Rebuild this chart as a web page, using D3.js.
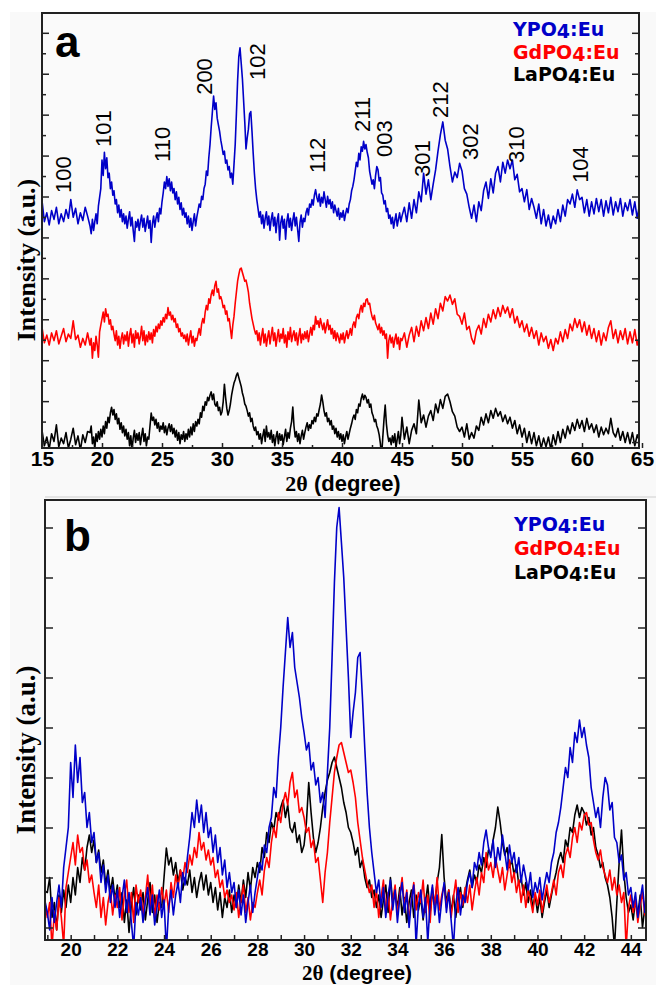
<!DOCTYPE html>
<html>
<head>
<meta charset="utf-8">
<script src="https://cdn.jsdelivr.net/npm/d3@7"></script>
<style>
  body { margin: 0; background: #fff; }
  svg { display: block; }
</style>
</head>
<body>
<svg id="chart" width="656" height="985"></svg>
<script>
// XRD patterns, counts.
// head: 15.0-18.8 step 0.2, mid: 19.0-45.0 step 0.1, tail: 45.2-65.0 step 0.2
const ypo4Head = [245,150,190,135,200,160,215,140,185,150,205,165,250,170,210,140,190,155,215,175];
const ypo4Mid = [
  130,95,160,110,150,185,140,220,260,300,
  430,360,465,390,440,350,370,300,330,270,
  290,230,250,190,225,170,205,150,185,140,
  175,120,160,195,130,170,110,60,150,125,
  160,110,150,180,125,165,105,140,175,120,
  155,55,140,175,125,165,190,150,210,185,
  240,280,330,300,355,310,345,290,330,280,
  300,250,285,230,260,205,235,180,210,170,
  190,140,175,125,165,110,150,185,130,170,
  200,230,215,265,250,300,320,380,360,440,
  500,580,650,720,660,690,620,590,560,520,
  490,455,470,415,430,385,400,350,370,320,
  410,500,640,790,900,940,870,800,700,600,
  480,530,570,640,650,560,460,370,300,250,
  210,170,195,140,180,120,165,195,135,175,
  110,160,190,130,170,100,155,185,65,145,
  175,120,160,70,150,185,125,165,110,155,
  190,130,170,115,60,145,180,125,165,150,
  190,210,180,230,215,250,225,270,295,260,
  240,275,220,260,235,285,250,215,265,230,
  250,210,240,190,225,200,175,210,160,190,
  170,200,155,185,210,190,230,250,290,310,
  340,380,420,400,460,430,490,470,515,480,
  500,465,440,380,350,320,340,300,360,400,
  385,335,350,280,270,230,245,195,210,165,
  180,140,170,120,155,185,130,160,190,150,
  175
];
const ypo4Tail = [
  215,150,235,165,250,190,285,240,370,
  275,340,250,320,385,
  470,545,603,520,480,
  400,330,375,350,415,
  380,300,275,215,165,
  225,150,240,200,290,
  330,255,345,280,370,
  400,330,420,370,430,
  390,430,340,365,285,
  300,240,295,205,255,
  215,165,230,140,205,
  130,180,120,175,140,
  205,150,225,175,250,
  230,275,215,294,250,
  260,190,250,175,240,
  185,255,195,250,175,
  245,190,260,180,240,
  195,255,175,235,200,
  250,180,240,165,230,
  130
];

const gdpo4Head = [200,130,165,120,175,140,185,125,160,195,135,170,150,230,145,165,110,150,120,175];
const gdpo4Mid = [
  120,150,60,130,95,160,120,65,180,210,
  240,270,225,285,250,260,215,235,190,205,
  170,140,185,120,160,105,150,175,125,165,
  140,180,115,165,195,130,170,110,185,150,
  175,125,160,205,140,185,120,165,135,180,
  145,175,130,190,160,205,180,215,195,230,
  210,245,225,260,240,290,255,270,235,255,
  225,240,200,215,180,195,160,175,150,165,
  135,170,120,155,185,130,160,115,150,140,
  170,195,165,215,240,220,270,300,280,330,
  310,350,370,345,390,410,360,375,330,340,
  320,290,300,260,275,230,240,195,150,210,
  250,310,360,410,440,465,470,450,430,410,
  415,390,360,310,275,240,215,190,170,185,
  140,175,120,160,195,130,170,115,155,185,
  125,165,200,140,175,115,155,190,135,170,
  150,195,130,165,110,180,145,200,135,165,
  185,140,175,120,160,195,130,170,145,180,
  150,185,135,170,200,165,210,190,250,215,
  230,200,240,215,190,220,175,205,235,190,
  210,170,195,150,185,140,175,155,130,170,
  145,175,130,160,185,150,170,195,165,210,
  225,200,245,260,240,280,300,270,310,295,
  325,330,305,310,275,250,235,255,220,205,
  190,215,175,200,165,185,150,170,60,140,
  165,130,155,110,145,170,125,155,100,150,
  140
];
const gdpo4Tail = [
  175,110,165,200,135,205,160,230,185,
  245,195,265,215,285,
  240,310,275,340,320,
  347,305,330,260,250,
  215,265,190,205,150,
  125,185,210,170,240,
  200,260,225,280,240,
  290,250,300,265,293,
  245,285,220,250,200,
  230,180,215,160,200,
  150,185,120,175,135,
  160,105,145,95,150,
  125,180,135,190,150,
  215,185,240,200,235,
  180,225,165,210,150,
  195,135,185,120,175,
  140,200,230,150,190,
  130,185,145,195,125,
  180,130,190,120,165,
  105
];

const lapo4Head = [180,110,150,95,165,130,205,105,145,120,170,100,140,190,115,155,90,160,125,175];
const lapo4Mid = [
  170,200,120,150,95,165,130,175,140,185,
  150,200,165,220,190,240,215,260,285,250,
  275,230,255,210,235,185,215,170,200,155,
  185,140,170,110,155,90,145,180,125,165,
  135,170,115,155,190,130,165,110,150,140,
  200,259,225,240,205,230,190,215,175,200,
  185,215,170,200,160,190,210,175,205,165,
  190,150,180,135,170,120,160,140,175,130,
  165,140,185,150,195,160,210,175,220,200,
  230,210,260,240,290,270,310,295,330,315,
  340,355,320,345,300,290,310,270,285,250,
  265,310,390,330,280,250,270,300,340,370,
  395,410,430,441,420,400,380,350,330,300,
  290,270,245,260,220,235,200,180,195,160,
  175,140,165,120,155,185,130,200,150,170,
  140,180,125,160,110,150,175,120,165,135,
  160,115,150,185,130,170,145,190,220,286,
  200,150,175,130,165,120,155,180,140,170,
  195,215,180,205,190,225,210,240,220,255,
  245,275,300,341,310,270,245,260,220,235,
  205,225,185,200,165,190,150,175,140,165,
  130,160,120,150,175,140,165,190,210,235,
  250,230,275,260,300,290,325,345,320,340,
  330,305,320,285,300,260,245,220,230,200,
  185,160,120,60,150,230,295,210,160,130,
  145,115,155,125,165,100,140,175,120,160,
  240
];
const lapo4Tail = [
  140,195,120,180,210,165,318,215,250,
  195,245,270,225,300,
  260,320,280,335,345,
  310,265,245,195,175,
  195,150,210,140,170,
  145,200,180,240,205,
  255,215,270,235,280,
  245,265,220,250,210,
  240,190,225,165,205,
  150,190,125,175,120,
  170,110,155,100,145,
  105,150,95,160,115,
  175,125,185,145,200,
  165,215,180,230,190,
  225,175,235,185,210,
  170,205,150,195,160,
  190,165,235,170,150,
  190,135,175,125,170,
  120,170,110,160,130,
  175
];

const prefixes = ["La", "Gd", "Y"];
const colors = ["#000000", "#ff0000", "#0000c8"];
const stackOffsets = [0, 448, 979];   // vertical shift used in panel a

// Miller indices marked in panel a
const hklLabels = ["100","101","110","200","102","112","211","003","301","212","302","310","104"];
const hklTheta  = [16.75, 20.1, 25.0, 28.5, 32.9, 37.9, 41.7, 43.5, 46.7, 48.2, 50.7, 54.5, 59.8];
const hklLevel  = [1259, 1468, 1400, 1705, 1773, 1350, 1536, 1423, 1332, 1600, 1409, 1395, 1305];

const xTicksA = [15, 20, 25, 30, 35, 40, 45, 50, 55, 60, 65];
const xTicksB = [19,20,21,22,23,24,25,26,27,28,29,30,31,32,33,34,35,36,37,38,39,40,41,42,43,44];

function buildSeries(head, mid, tail) {
  const pts = [];
  head.forEach((v, i) => pts.push({t: 15 + i * 0.2, v: v}));
  mid.forEach((v, i) => pts.push({t: 19 + i * 0.1, v: v}));
  tail.forEach((v, i) => pts.push({t: 45.2 + i * 0.2, v: v}));
  return pts;
}

const seriesData = [
  buildSeries(lapo4Head, lapo4Mid, lapo4Tail),
  buildSeries(gdpo4Head, gdpo4Mid, gdpo4Tail),
  buildSeries(ypo4Head, ypo4Mid, ypo4Tail)
];

const svg = d3.select("#chart");
const sansBold = "'Liberation Sans', Arial, sans-serif";
const serif = "'Liberation Serif', 'Times New Roman', serif";

svg.append("rect").attr("x", 10).attr("y", 12).attr("width", 646).attr("height", 973).attr("fill", "#f9f9f9");
svg.append("line").attr("x1", 45).attr("x2", 656).attr("y1", 497).attr("y2", 497)
  .attr("stroke", "#cfcfcf").attr("stroke-width", 1);

function styleAxis(g, fontSize) {
  g.select(".domain").remove();
  g.selectAll(".tick line").attr("stroke", "#222").attr("stroke-width", 1.5);
  g.selectAll(".tick text")
    .attr("fill", "#000")
    .style("font-family", sansBold)
    .style("font-weight", "bold")
    .style("font-size", fontSize + "px");
}

function drawLegend(g, x, baselines, size) {
  [2, 1, 0].forEach((k, i) => {
    const t = g.append("text")
      .attr("x", x).attr("y", baselines[i])
      .attr("fill", colors[k])
      .style("font-family", "'DejaVu Sans', sans-serif")
      .style("font-weight", "bold")
      .style("font-size", size + "px");
    t.append("tspan").text(prefixes[k] + "PO");
    t.append("tspan").attr("dy", 2).text("4");
    t.append("tspan").attr("dy", -2).text(":Eu");
  });
}

function drawYLabel(cx, cy, size) {
  svg.append("text")
    .attr("transform", `translate(${cx},${cy}) rotate(-90)`)
    .attr("text-anchor", "middle")
    .style("font-family", serif)
    .style("font-weight", "bold")
    .style("font-size", size + "px")
    .text("Intensity (a.u.)");
}

function drawXLabel(cx, y, size) {
  const t = svg.append("text")
    .attr("x", cx).attr("y", y)
    .attr("text-anchor", "middle")
    .style("font-weight", "bold")
    .style("font-size", size + "px");
  t.append("tspan").style("font-family", serif).text("2θ");
  t.append("tspan").style("font-family", sansBold).text(" (degree)");
}

// ---------- panel a ----------
const areaA = {left: 42, right: 639, top: 13, bottom: 448};
const xA = d3.scaleLinear().domain([15, 64.75]).range([areaA.left, areaA.right]);
const yA = d3.scaleLinear().domain([100, 2077]).range([areaA.bottom, areaA.top]);

svg.append("clipPath").attr("id", "clipA").append("rect")
  .attr("x", areaA.left).attr("y", areaA.top)
  .attr("width", areaA.right - areaA.left).attr("height", areaA.bottom - areaA.top);

const gA = svg.append("g");
gA.append("rect")
  .attr("x", areaA.left).attr("y", areaA.top)
  .attr("width", areaA.right - areaA.left).attr("height", areaA.bottom - areaA.top)
  .attr("fill", "#fafafa");

const linesA = gA.append("g").attr("clip-path", "url(#clipA)");
seriesData.forEach((data, k) => {
  const line = d3.line().x(d => xA(d.t)).y(d => yA(d.v + stackOffsets[k]));
  linesA.append("path")
    .datum(data)
    .attr("d", line)
    .attr("fill", "none")
    .attr("stroke", colors[k])
    .attr("stroke-width", 1.6)
    .attr("stroke-linejoin", "round");
});

const yMajorA = d3.range(127, 2077, 186);
const yMinorA = d3.range(220, 2077, 186);
const xMinorA = d3.range(17.5, 65, 5);

gA.append("g").attr("transform", `translate(0,${areaA.bottom})`)
  .call(d3.axisBottom(xA).tickValues(xTicksA).tickSize(-5).tickPadding(3).tickFormat(d3.format("d")))
  .call(g => styleAxis(g, 21));
gA.append("g").attr("transform", `translate(0,${areaA.bottom})`)
  .call(d3.axisBottom(xA).tickValues(xMinorA).tickSize(-3).tickFormat(""))
  .call(g => styleAxis(g, 21));
gA.append("g").attr("transform", `translate(${areaA.left},0)`)
  .call(d3.axisLeft(yA).tickValues(yMajorA).tickSize(-7).tickFormat(""))
  .call(g => styleAxis(g, 10));
gA.append("g").attr("transform", `translate(${areaA.left},0)`)
  .call(d3.axisLeft(yA).tickValues(yMinorA).tickSize(-4).tickFormat(""))
  .call(g => styleAxis(g, 10));
gA.append("g").attr("transform", `translate(${areaA.right},0)`)
  .call(d3.axisRight(yA).tickValues(yMajorA).tickSize(-7).tickFormat(""))
  .call(g => styleAxis(g, 10));
gA.append("g").attr("transform", `translate(${areaA.right},0)`)
  .call(d3.axisRight(yA).tickValues(yMinorA).tickSize(-4).tickFormat(""))
  .call(g => styleAxis(g, 10));

gA.append("rect")
  .attr("x", areaA.left).attr("y", areaA.top)
  .attr("width", areaA.right - areaA.left).attr("height", areaA.bottom - areaA.top)
  .attr("fill", "none").attr("stroke", "#222").attr("stroke-width", 2);

// hkl labels
const hklSize = 22;
gA.selectAll(".hkl")
  .data(hklLabels)
  .enter()
  .append("text")
  .attr("class", "hkl")
  .attr("transform", (d, i) => `translate(${xA(hklTheta[i]) + hklSize * 0.36},${yA(hklLevel[i])}) rotate(-90)`)
  .style("font-family", "'Liberation Sans', Arial, sans-serif")
  .style("font-size", hklSize + "px")
  .text(d => d);

gA.append("text").attr("x", 55).attr("y", 57)
  .style("font-family", sansBold).style("font-weight", "bold").style("font-size", "44px")
  .text("a");
drawLegend(gA, 513, [36, 59, 81], 19);
drawYLabel(35, 260, 26);
drawXLabel(343, 491, 22);

// ---------- panel b ----------
const areaB = {left: 45, right: 646, top: 500, bottom: 940};
const xB = d3.scaleLinear().domain([18.9, 44.65]).range([areaB.left, areaB.right]);
const yB = d3.scaleLinear().domain([75, 955]).range([areaB.bottom, areaB.top]);

svg.append("clipPath").attr("id", "clipB").append("rect")
  .attr("x", areaB.left).attr("y", areaB.top)
  .attr("width", areaB.right - areaB.left).attr("height", areaB.bottom - areaB.top);

const gB = svg.append("g");
gB.append("rect")
  .attr("x", areaB.left).attr("y", areaB.top)
  .attr("width", areaB.right - areaB.left).attr("height", areaB.bottom - areaB.top)
  .attr("fill", "#fafafa");

const linesB = gB.append("g").attr("clip-path", "url(#clipB)");
seriesData.forEach((data, k) => {
  const visible = data.filter(d => d.t >= 18.5 && d.t <= 45.3);
  const line = d3.line().x(d => xB(d.t)).y(d => yB(d.v));
  linesB.append("path")
    .datum(visible)
    .attr("d", line)
    .attr("fill", "none")
    .attr("stroke", colors[k])
    .attr("stroke-width", 1.6)
    .attr("stroke-linejoin", "round");
});

const yTicksB = d3.range(100, 955, 100);
gB.append("g").attr("transform", `translate(0,${areaB.bottom})`)
  .call(d3.axisBottom(xB).tickValues(xTicksB).tickSize(-5).tickPadding(2)
    .tickFormat(d => d % 2 === 0 ? d : ""))
  .call(g => styleAxis(g, 19));
gB.append("g").attr("transform", `translate(${areaB.left},0)`)
  .call(d3.axisLeft(yB).tickValues(yTicksB).tickSize(-8).tickFormat(""))
  .call(g => styleAxis(g, 10));
gB.append("g").attr("transform", `translate(${areaB.right},0)`)
  .call(d3.axisRight(yB).tickValues(yTicksB).tickSize(-8).tickFormat(""))
  .call(g => styleAxis(g, 10));

gB.append("rect")
  .attr("x", areaB.left).attr("y", areaB.top)
  .attr("width", areaB.right - areaB.left).attr("height", areaB.bottom - areaB.top)
  .attr("fill", "none").attr("stroke", "#222").attr("stroke-width", 2);

gB.append("text").attr("x", 64).attr("y", 551)
  .style("font-family", sansBold).style("font-weight", "bold").style("font-size", "44px")
  .text("b");
drawLegend(gB, 514, [531, 555, 579], 19);
drawYLabel(35, 750, 27);
drawXLabel(357, 980, 21);
</script>
</body>
</html>
